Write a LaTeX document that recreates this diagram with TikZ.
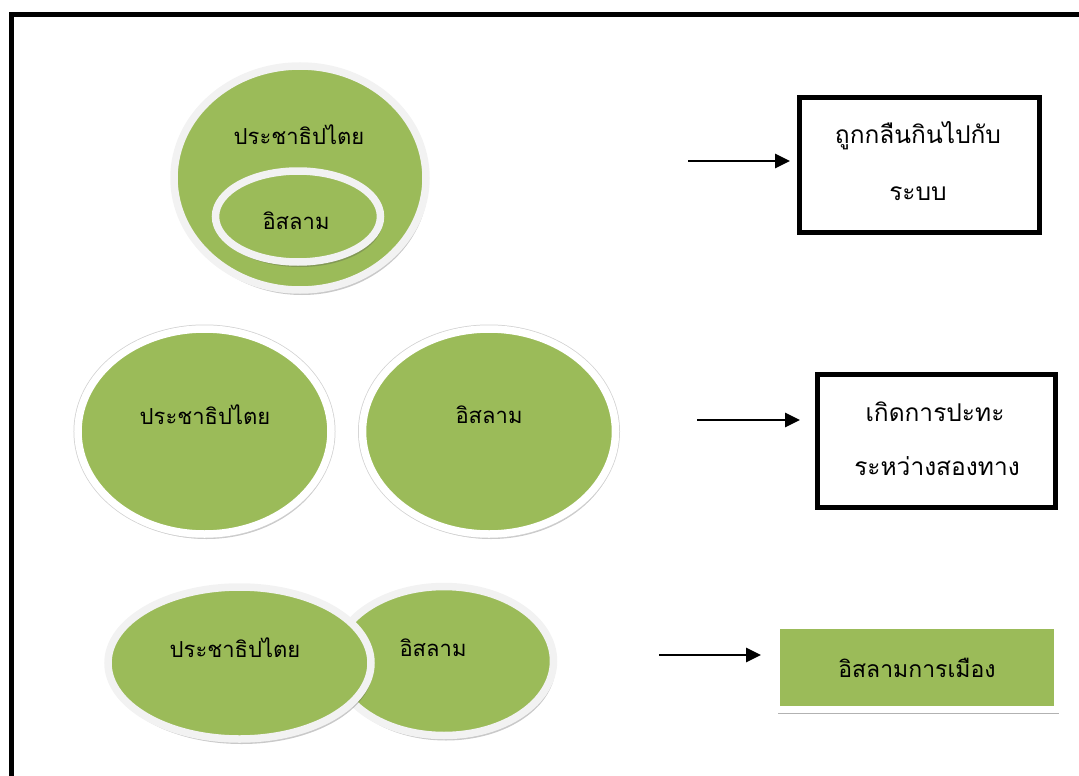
\documentclass[tikz,border=0pt]{standalone}
\usepackage{fontspec}
\newfontfamily\thaifont[Script=Thai]{Loma}
\usetikzlibrary{shapes.geometric,arrows.meta,shadows}
\definecolor{leaf}{HTML}{9BBB59}
\definecolor{ringgray}{HTML}{F2F2F2}
\begin{document}
\begin{tikzpicture}[x=1pt,y=-1pt,
  blob/.style={ellipse, fill=leaf, draw=ringgray, line width=7.5pt, inner sep=0pt,
    general shadow={shadow xshift=2pt, shadow yshift=-5pt, opacity=0.3, fill=black!70},
    general shadow={shadow xshift=1pt, shadow yshift=-2pt, shadow scale=1.01, opacity=0.12, fill=black}},
  whiteblob/.style={blob, draw=white, preaction={draw=black!18, line width=9pt}},
  blobtext/.style={font=\thaifont\fontsize{22}{26}\selectfont, inner sep=0pt},
  boxtext/.style={font=\thaifont\fontsize{24.5}{28}\selectfont, inner sep=0pt},
  outcome/.style={draw=black, line width=5pt, fill=white, inner sep=0pt},
  greenbox/.style={fill=leaf, draw=white, line width=7pt, inner sep=0pt,
    font=\thaifont\fontsize{23}{27}\selectfont,
    general shadow={shadow xshift=1pt, shadow yshift=-4pt, opacity=0.3, fill=black},
    general shadow={shadow yshift=-1pt, shadow scale=1.012, opacity=0.12, fill=black}},
  pointer/.style={line width=2.7pt, -{Triangle[length=15pt,width=14pt]}}]

\useasboundingbox (0,0) rectangle (1079,776);

% outer frame, open at the right and bottom
\draw[line width=5pt] (11.5,790) -- (11.5,15) -- (1090,15);

% row 1: Islam contained in democracy
\node[blob, minimum width=252pt, minimum height=224pt] (demo1) at (300,178) {};
\node[blob, minimum width=165pt, minimum height=91pt] (isl1) at (298,216.5) {};
\node[blobtext] (demo1t) at (299,135) {ประชาธิปไตย};
\node[blobtext] (isl1t) at (296,221) {อิสลาม};

\node[outcome, minimum width=240pt, minimum height=135pt] (res1) at (919.5,165) {};
\node[boxtext] (res1a) at (918,136) {ถูกกลืนกินไปกับ};
\node[boxtext] (res1b) at (918,194) {ระบบ};
\coordinate (tail1) at (688,161);
\draw[pointer, shorten >=7pt] (tail1) -- (tail1 -| res1.west);

% row 2: two separate ellipses
\node[whiteblob, minimum width=253pt, minimum height=205pt] (demo2) at (204.5,431.5) {};
\node[whiteblob, minimum width=253pt, minimum height=205pt] (isl2) at (489,431.5) {};
\node[blobtext] (demo2t) at (205,415) {ประชาธิปไตย};
\node[blobtext] (isl2t) at (489,415) {อิสลาม};

\node[outcome, minimum width=238pt, minimum height=133pt] (res2) at (936.5,441) {};
\node[boxtext] (res2a) at (935,412) {เกิดการปะทะ};
\node[boxtext] (res2b) at (937,466) {ระหว่างสองทาง};
\coordinate (tail2) at (697,420);
\draw[pointer, shorten >=15pt] (tail2) -- (tail2 -| res2.west);

% row 3: overlapping ellipses
\node[blob, minimum width=219pt, minimum height=149pt] (isl3) at (444,661) {};
\node[blob, minimum width=263pt, minimum height=152pt] (demo3) at (239.5,663) {};
\node[blobtext] (demo3t) at (235,648) {ประชาธิปไตย};
\node[blobtext] (isl3t) at (433,648) {อิสลาม};

\node[greenbox, minimum width=281pt, minimum height=84pt] (res3) at (917,667.5) {อิสลามการเมือง};
\coordinate (tail3) at (659,655);
\draw[pointer, shorten >=12pt] (tail3) -- (tail3 -| res3.west);
\end{tikzpicture}
\end{document}
